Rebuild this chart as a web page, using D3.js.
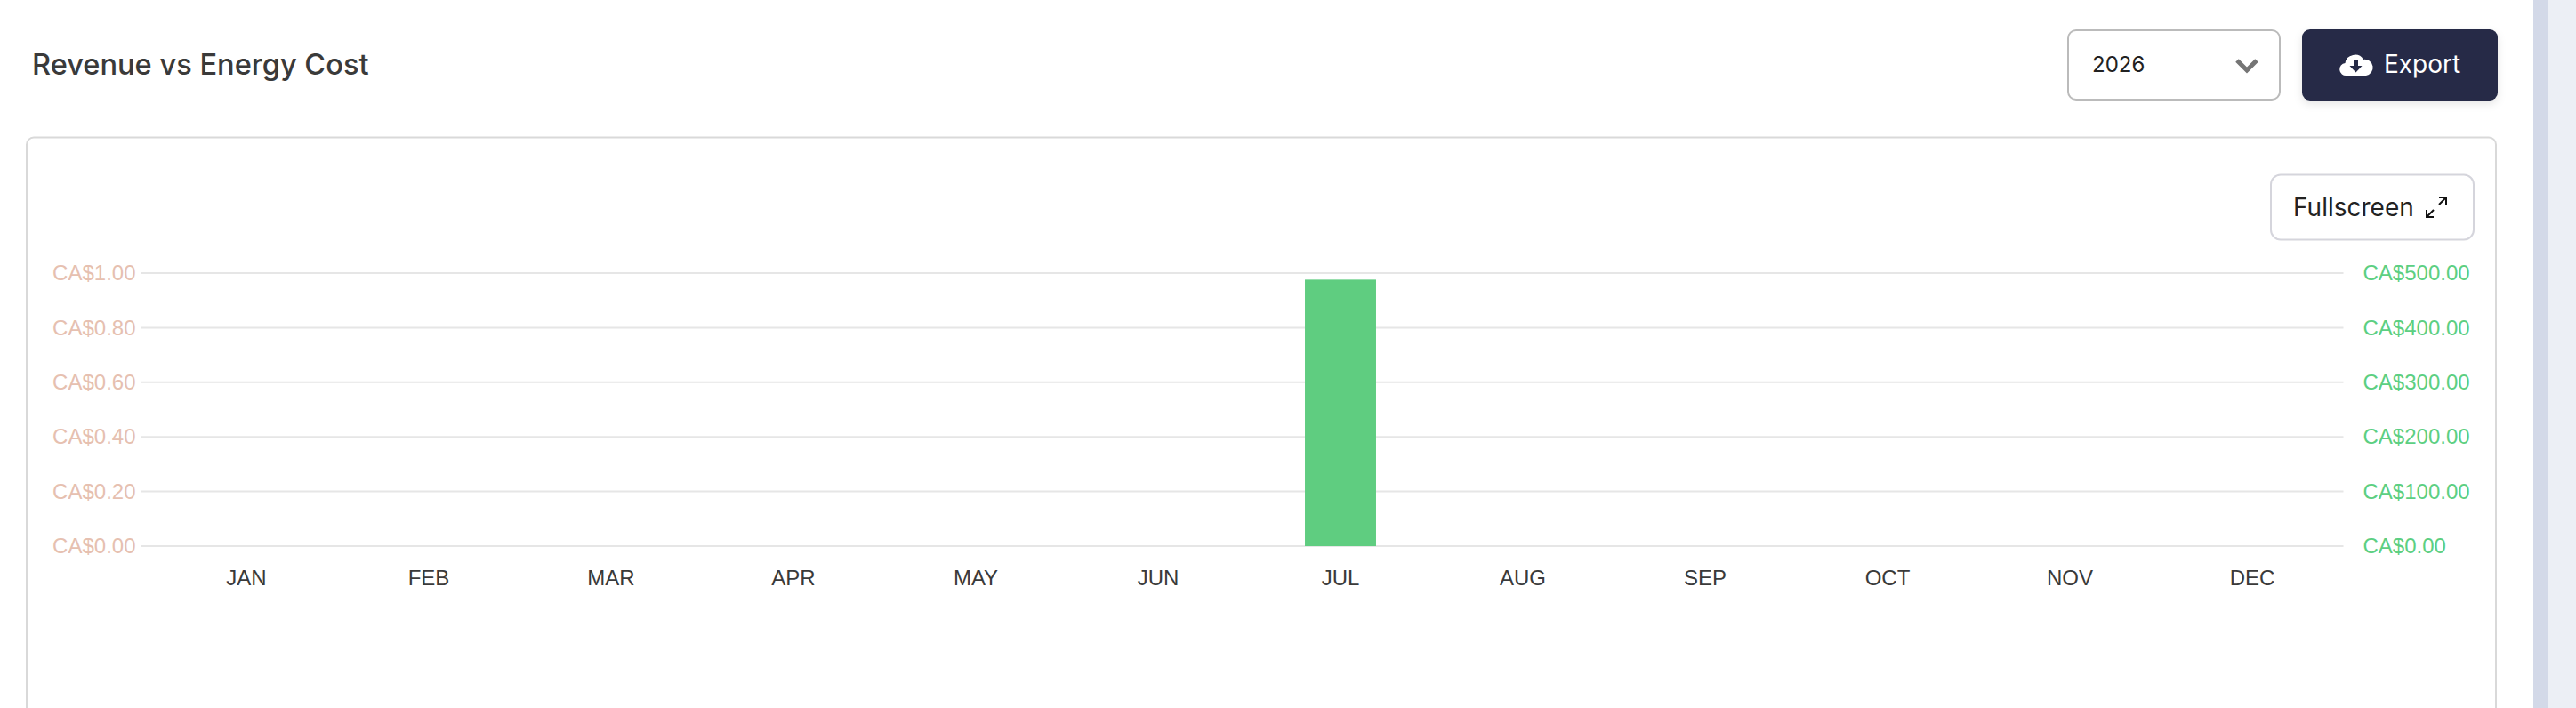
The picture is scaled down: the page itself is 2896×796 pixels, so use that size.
<!DOCTYPE html>
<html>
<head>
<meta charset="utf-8">
<title>Revenue vs Energy Cost</title>
<script src="https://cdn.jsdelivr.net/npm/d3@7"></script>
<style>
	html, body { margin: 0; padding: 0; background: #fff; overflow: hidden; }
	svg { display: block; }
	.axis-text text { font-family: "Liberation Sans", Arial, sans-serif; font-size: 24px; }
	.ui { font-family: Inter, sans-serif; }
</style>
</head>
<body>
<div id="chart"></div>
<script>
const months = ["JAN", "FEB", "MAR", "APR", "MAY", "JUN", "JUL", "AUG", "SEP", "OCT", "NOV", "DEC"];
const revenue = [0, 0, 0, 0, 0, 0, 488, 0, 0, 0, 0, 0];
const energyCost = [0, 0, 0, 0, 0, 0, 0, 0, 0, 0, 0, 0];
const costTicks = [0, 0.2, 0.4, 0.6, 0.8, 1];
const revenueTicks = [0, 100, 200, 300, 400, 500];

const title = "Revenue vs Energy Cost";
const selectedYear = "2026";

const width = 2896;
const height = 796;
const plot = { left: 174.5, right: 2634.5, top: 307, bottom: 614, gridLeft: 159 };

const svg = d3
	.select("#chart")
	.append("svg")
	.attr("width", width)
	.attr("height", height);

// Page background, scrollbar strip
svg.append("rect").attr("width", width).attr("height", height).attr("fill", "#fff");
svg.append("rect").attr("x", 2848).attr("width", 16).attr("height", height).attr("fill", "#d3d9e8");
svg.append("rect").attr("x", 2864).attr("width", 32).attr("height", height).attr("fill", "#eceff5");

// Shadow for the export button
const defs = svg.append("defs");
defs.append("filter")
	.attr("id", "btn-shadow")
	.attr("x", "-10%").attr("y", "-20%").attr("width", "120%").attr("height", "150%")
	.append("feDropShadow")
	.attr("dx", 0).attr("dy", 4).attr("stdDeviation", 5)
	.attr("flood-color", "#000").attr("flood-opacity", 0.1);

// Header
svg.append("text")
	.attr("class", "ui")
	.attr("x", 36).attr("y", 84)
	.attr("font-size", 32.6).attr("font-weight", 500)
	.attr("fill", "#3a3a3a")
	.text(title);

const box = (x, y, w, h, r, stroke) =>
	svg.append("rect")
		.attr("x", x).attr("y", y).attr("width", w).attr("height", h).attr("rx", r)
		.attr("fill", "#fff").attr("stroke", stroke).attr("stroke-width", 2);

// Year select
box(2325, 34, 238, 78, 9, "#bbb");
svg.append("text")
	.attr("class", "ui")
	.attr("x", 2352).attr("y", 81)
	.attr("font-size", 24).attr("fill", "#222")
	.text(selectedYear);
svg.append("path")
	.attr("d", "M2515 68 L2526 79 L2537 68")
	.attr("fill", "none").attr("stroke", "#757575").attr("stroke-width", 5);

// Export button
svg.append("rect")
	.attr("x", 2588).attr("y", 33).attr("width", 220).attr("height", 80).attr("rx", 9)
	.attr("fill", "#262b47").attr("filter", "url(#btn-shadow)");
svg.append("path")
	.attr("fill", "#fff")
	.attr("d", "M2638 85 a7 7 0 0 1 -1.5 -14 a11 10.5 0 0 1 20.5 -4 a8.5 8.5 0 0 1 3 18 z");
svg.append("path")
	.attr("fill", "#262b47")
	.attr("d", "M2646 67 h5 v7 h4.5 l-7 7.5 l-7 -7.5 h4.5 z");
svg.append("text")
	.attr("class", "ui")
	.attr("x", 2680).attr("y", 82)
	.attr("font-size", 28).attr("fill", "#fff")
	.text("Export");

// Card
svg.append("rect")
	.attr("x", 30).attr("y", 154.5).attr("width", 2776).attr("height", 700).attr("rx", 8)
	.attr("fill", "#fff").attr("stroke", "#d9d9d9").attr("stroke-width", 2);

// Fullscreen button
box(2553, 196.5, 228, 73, 11, "#d5d5dc");
svg.append("text")
	.attr("class", "ui")
	.attr("x", 2578).attr("y", 243)
	.attr("font-size", 28).attr("fill", "#222")
	.text("Fullscreen");
svg.append("path")
	.attr("fill", "none").attr("stroke", "#111").attr("stroke-width", 2)
	.attr("d", "M2728 244 L2736 236 M2742 230 L2750 222 M2742 222 H2750 V230 M2728 236 V244 H2736");

// Scales
const x = d3.scaleBand()
	.domain(months)
	.range([plot.left, plot.right])
	.paddingInner(0.61)
	.paddingOuter(0.305);
const yCost = d3.scaleLinear().domain([0, 1]).range([plot.bottom, plot.top]);
const yRevenue = d3.scaleLinear().domain([0, 500]).range([plot.bottom, plot.top]);

// Gridlines
svg.append("g")
	.selectAll("line")
	.data(costTicks)
	.enter()
	.append("line")
	.attr("x1", plot.gridLeft)
	.attr("x2", plot.right)
	.attr("y1", d => yCost(d))
	.attr("y2", d => yCost(d))
	.attr("stroke", "#e6e6e6")
	.attr("stroke-width", 2);

// Bars
svg.append("g")
	.selectAll("rect")
	.data(revenue)
	.enter()
	.append("rect")
	.attr("x", (d, i) => x(months[i]))
	.attr("width", x.bandwidth())
	.attr("y", d => yRevenue(d))
	.attr("height", d => yRevenue(0) - yRevenue(d))
	.attr("fill", "#5fcd80");

svg.append("g")
	.selectAll("rect")
	.data(energyCost)
	.enter()
	.append("rect")
	.attr("x", (d, i) => x(months[i]))
	.attr("width", x.bandwidth())
	.attr("y", d => yCost(d))
	.attr("height", d => yCost(0) - yCost(d))
	.attr("fill", "#e6c0b0");

// Axes
const leftAxis = svg.append("g")
	.attr("class", "axis-text")
	.attr("transform", `translate(${plot.left},0)`)
	.call(d3.axisLeft(yCost).tickValues(costTicks).tickSize(0).tickPadding(22).tickFormat(d => "CA$" + d3.format(".2f")(d)));
leftAxis.select(".domain").remove();
leftAxis.selectAll("text").attr("fill", "#e6c0b0");

const rightAxis = svg.append("g")
	.attr("class", "axis-text")
	.attr("transform", `translate(${plot.right},0)`)
	.call(d3.axisRight(yRevenue).tickValues(revenueTicks).tickSize(0).tickPadding(22).tickFormat(d => "CA$" + d3.format(".2f")(d)));
rightAxis.select(".domain").remove();
rightAxis.selectAll("text").attr("fill", "#5ccf82");

const bottomAxis = svg.append("g")
	.attr("class", "axis-text")
	.attr("transform", `translate(0,${plot.bottom})`)
	.call(d3.axisBottom(x).tickSize(0).tickPadding(27));
bottomAxis.select(".domain").remove();
bottomAxis.selectAll("text").attr("fill", "#3a3a3a");
</script>
</body>
</html>
